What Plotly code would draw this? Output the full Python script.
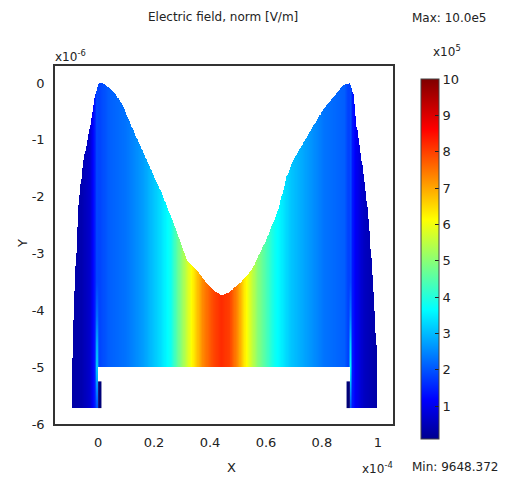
import numpy as np
import plotly.graph_objects as go

# ---- data (x in units of 1e-4, y in units of 1e-6, field in units of 1e5 V/m) ----
profile_x = [-0.10, -0.06, -0.03, -0.015, 0.0, 0.04, 0.10, 0.16, 0.22, 0.26, 0.29, 0.34,
             0.375, 0.41, 0.44, 0.47, 0.50, 0.525, 0.57, 0.63, 0.69, 0.75, 0.81, 0.88,
             0.90, 0.92, 0.95, 1.00]
profile_v = [0.3, 0.4, 0.7, 1.3, 1.8, 2.1, 2.3, 2.7, 3.3, 3.8, 4.8, 6.3,
             7.3, 7.9, 8.2, 8.0, 7.2, 6.3, 5.0, 3.8, 3.1, 2.7, 2.3, 2.1,
             1.7, 1.1, 0.6, 0.3]

outline_x = [-0.096, 0.0, 0.0, 0.9, 0.9, 0.996, 0.996, 0.995, 0.986, 0.975, 0.969, 0.957,
             0.942, 0.924, 0.912, 0.9, 0.876, 0.852, 0.804, 0.767, 0.697, 0.674, 0.643,
             0.596, 0.549, 0.507, 0.464, 0.442, 0.418, 0.388, 0.352, 0.317, 0.275, 0.227,
             0.174, 0.12, 0.085, 0.06, 0.036, 0.018, 0.003, -0.01, -0.02, -0.03, -0.054,
             -0.071, -0.079, -0.087, -0.093]
outline_y = [-5.72, -5.72, -5.0, -5.0, -5.72, -5.72, -5.0, -4.7, -3.82, -3.0, -2.53, -1.94,
             -1.36, -0.77, -0.18, 0.0, -0.04, -0.18, -0.47, -0.77, -1.36, -1.65, -2.24,
             -2.82, -3.29, -3.52, -3.70, -3.73, -3.67, -3.52, -3.29, -3.12, -2.53, -1.94,
             -1.36, -0.77, -0.36, -0.18, -0.07, -0.01, 0.0, -0.2, -0.5, -0.8, -1.4,
             -2.2, -3.1, -4.0, -5.0]

streak_x = [-0.004, 0.902]
streak_y = [-5.72, -5.3, -5.0, -4.6, -4.1, -3.5]
streak_v = [2.0, 3.0, 3.6, 3.2, 2.4, 1.9]

electrode_left_x = [0.0, 0.012, 0.012, 0.0, 0.0]
electrode_right_x = [0.888, 0.9, 0.9, 0.888, 0.888]
electrode_y = [-5.72, -5.72, -5.25, -5.25, -5.72]

x_ticks = [0, 0.2, 0.4, 0.6, 0.8, 1]
x_tick_text = ["0", "0.2", "0.4", "0.6", "0.8", "1"]
y_ticks = [0, -1, -2, -3, -4, -5, -6]
y_tick_text = ["0", "-1", "-2", "-3", "-4", "-5", "-6"]
cb_ticks = [1, 2, 3, 4, 5, 6, 7, 8, 9, 10]
v_min = 0.09648372
v_max = 10.0

# ---- build field grid ----
xs = np.linspace(-0.11, 1.01, 561)
ys = np.linspace(-5.75, 0.05, 581)
XX, YY = np.meshgrid(xs, ys)
Z = np.tile(np.interp(xs, profile_x, profile_v), (len(ys), 1))

sv = np.interp(ys, streak_y, streak_v)
for sx in streak_x:
    w = np.clip(1 - np.abs(xs - sx) / 0.008, 0, 1)
    Z = np.maximum(Z, Z * (1 - w[None, :]) + sv[:, None] * w[None, :])

# mask outside the domain (ray casting)
px_, py_ = np.array(outline_x), np.array(outline_y)
inside = np.zeros(XX.shape, dtype=bool)
n = len(px_)
for i in range(n):
    x1, y1 = px_[i], py_[i]
    x2, y2 = px_[(i + 1) % n], py_[(i + 1) % n]
    cond = (y1 > YY) != (y2 > YY)
    with np.errstate(divide="ignore", invalid="ignore"):
        xint = x1 + (YY - y1) * (x2 - x1) / (y2 - y1)
    inside ^= cond & (XX < xint)
Z = np.where(inside, Z, np.nan)

jet = [[0.0, "rgb(0,0,143)"], [0.11, "rgb(0,0,255)"], [0.36, "rgb(0,255,255)"],
       [0.61, "rgb(255,255,0)"], [0.86, "rgb(255,0,0)"], [1.0, "rgb(128,0,0)"]]

L, R, T, B = 55, 393, 66, 424
W, H = 517, 483


def fx(p):
    return (p - L) / (R - L)


def fy(p):
    return (B - p) / (B - T)


fig = go.Figure()
fig.add_trace(go.Heatmap(
    x=xs, y=ys, z=Z, colorscale=jet, zmin=v_min, zmax=v_max, zsmooth=False,
    hoverinfo="skip",
    colorbar=dict(
        x=fx(411), xanchor="left", y=fy(259), yanchor="middle",
        thickness=18, thicknessmode="pixels", len=380, lenmode="pixels",
        outlinewidth=1, outlinecolor="#444",
        tickvals=cb_ticks, ticktext=[str(v) for v in cb_ticks],
        ticks="inside", ticklen=4, tickcolor="#222",
        tickfont=dict(family="DejaVu Sans", size=13, color="#222"),
    ),
))
for ex in (electrode_left_x, electrode_right_x):
    fig.add_trace(go.Scatter(x=ex, y=electrode_y, mode="lines", fill="toself",
                             fillcolor="rgb(0,0,120)", line=dict(width=0),
                             hoverinfo="skip", showlegend=False))

font = dict(family="DejaVu Sans", size=13, color="#222")
ann = [
    dict(text="Electric field, norm [V/m]", x=fx(223), y=fy(17), xanchor="center", yanchor="middle", size=12),
    dict(text="Max: 10.0e5", x=fx(410), y=fy(18), xanchor="left", yanchor="middle", size=12),
    dict(text="x10<sup>5</sup>", x=fx(431), y=fy(61), xanchor="left", yanchor="bottom", size=12),
    dict(text="x10<sup>-6</sup>", x=fx(53), y=fy(66), xanchor="left", yanchor="bottom", size=12),
    dict(text="x10<sup>-4</sup>", x=fx(360), y=fy(478), xanchor="left", yanchor="bottom", size=12),
    dict(text="Min: 9648.372", x=fx(410), y=fy(467), xanchor="left", yanchor="middle", size=12),
    dict(text="X", x=fx(231), y=fy(467), xanchor="center", yanchor="middle", size=13),
]
annotations = []
for a in ann:
    s = a.pop("size")
    annotations.append(dict(**a, xref="paper", yref="paper", showarrow=False,
                            font=dict(family="DejaVu Sans", size=s, color="#222")))
annotations.append(dict(text="Y", x=fx(22), y=fy(244), xref="paper", yref="paper",
                        xanchor="center", yanchor="middle", showarrow=False, textangle=-90,
                        font=dict(family="DejaVu Sans", size=13, color="#222")))

fig.update_layout(
    width=W, height=H, margin=dict(l=L, r=W - R, t=T, b=H - B, autoexpand=False),
    paper_bgcolor="white", plot_bgcolor="white", showlegend=False,
    annotations=annotations,
    xaxis=dict(range=[-0.154, 1.054], tickvals=x_ticks, ticktext=x_tick_text,
               showgrid=False, zeroline=False, showline=True, mirror=True,
               linecolor="#333", linewidth=1.5, ticks="", tickfont=font, ticklabelstandoff=6),
    yaxis=dict(range=[-6.0, 0.3], tickvals=y_ticks, ticktext=y_tick_text,
               showgrid=False, zeroline=False, showline=True, mirror=True,
               linecolor="#333", linewidth=1.5, ticks="", tickfont=font, ticklabelstandoff=6),
)
fig.write_html("out.html", config={"displayModeBar": False},
               post_script="document.body.style.margin='0';")
